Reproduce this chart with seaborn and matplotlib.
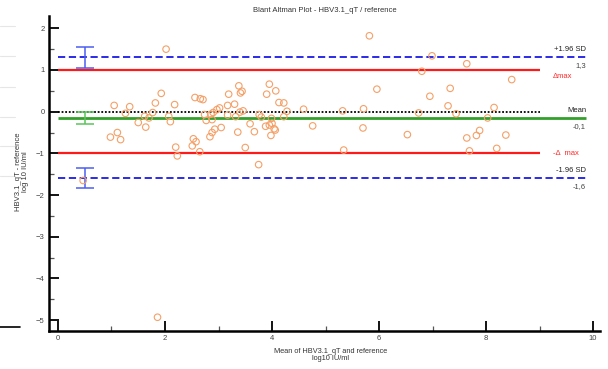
import matplotlib
matplotlib.use("Agg")
import matplotlib.pyplot as plt
from matplotlib.lines import Line2D
import seaborn as sns
import pandas as pd

# ---- data ----
mean_vals = [2.02, 1.93, 1.82, 2.18, 1.05, 1.34, 1.26, 1.77, 1.62, 1.70, 2.07, 1.50, 2.10, 1.64,
             1.11, 0.98, 1.17, 2.20, 2.23, 2.56, 2.66, 2.71, 3.38, 3.44, 3.41, 3.19, 3.95, 4.07,
             3.90, 4.13, 4.22, 3.30, 3.17, 3.02, 2.97, 3.46, 3.40, 2.90, 2.74, 2.86, 4.28, 4.22,
             3.76, 3.80, 3.17, 3.32, 4.59, 2.77, 2.88, 3.99, 4.00, 3.95, 3.59, 3.88, 4.06, 4.04,
             3.05, 2.93, 3.36, 3.67, 4.76, 2.88, 2.84, 3.98, 2.53, 2.58, 2.51, 2.65, 3.50, 3.75,
             5.82, 6.99, 6.80, 5.96, 7.33, 6.95, 7.29, 5.32, 5.71, 6.74, 7.44, 5.70, 6.53, 5.34,
             7.64, 8.48, 8.15, 8.03, 7.88, 7.82, 7.64, 8.37, 7.69, 8.20, 0.47, 1.86]
diff_vals = [1.50, 0.44, 0.21, 0.17, 0.15, 0.12, -0.04, -0.02, -0.11, -0.15, -0.11, -0.26, -0.24, -0.37,
             -0.50, -0.61, -0.67, -0.85, -1.06, 0.34, 0.31, 0.29, 0.62, 0.49, 0.45, 0.42, 0.66, 0.50,
             0.42, 0.22, 0.21, 0.18, 0.15, 0.09, 0.05, 0.02, -0.01, -0.02, -0.07, -0.06, 0.01, -0.12,
             -0.07, -0.13, -0.08, -0.12, 0.06, -0.21, -0.19, -0.16, -0.28, -0.32, -0.29, -0.35, -0.44, -0.41,
             -0.38, -0.42, -0.49, -0.48, -0.34, -0.50, -0.60, -0.57, -0.65, -0.72, -0.82, -0.96, -0.86, -1.27,
             1.82, 1.34, 0.97, 0.54, 0.56, 0.37, 0.14, 0.02, 0.07, -0.03, -0.05, -0.39, -0.55, -0.92,
             1.15, 0.77, 0.10, -0.15, -0.45, -0.57, -0.63, -0.56, -0.94, -0.88, -1.65, -4.93]

mean_diff = -0.15
upper_loa = 1.30
lower_loa = -1.60
delta_max = 1.0
ci_x = 0.5
ci_upper = [1.04, 1.55]
ci_mean = [-0.29, 0.0]
ci_lower = [-1.83, -1.34]

x_ticks = [0, 2, 4, 6, 8, 10]
y_ticks = [-5, -4, -3, -2, -1, 0, 1, 2]

df = pd.DataFrame({"mean": mean_vals, "diff": diff_vals})

sns.set_style("ticks")
plt.rcParams["font.family"] = ["Liberation Sans", "DejaVu Sans"]

fig = plt.figure(figsize=(6.08, 3.69), dpi=100)
W, H = 608, 369
ax = fig.add_axes([49 / W, 1 - 331 / H, (600 - 49) / W, (331 - 16) / H])

# reference lines
ax.hlines(upper_loa, 0, 9.87, colors="#1a1ae6", linestyles=(0, (4, 2)), lw=1.3, zorder=2)
ax.hlines(lower_loa, 0, 9.87, colors="#1a1ae6", linestyles=(0, (4, 2)), lw=1.3, zorder=2)
ax.hlines([delta_max, -delta_max], 0, 9.0, colors="#ff1a1a", lw=1.6, zorder=2)
ax.hlines(0, 0, 9.0, colors="black", linestyles=(0, (1, 1)), lw=1.3, zorder=2)
ax.hlines(mean_diff, 0, 9.87, colors="#33a02c", lw=2.0, zorder=2)

# confidence interval bars
def ci_bar(lims, color):
    mid = (lims[0] + lims[1]) / 2
    ax.errorbar([ci_x], [mid], yerr=[[mid - lims[0]], [lims[1] - mid]], fmt="none",
                ecolor=color, elinewidth=1.1, capsize=6.5, capthick=1.1, zorder=3)

ci_bar(ci_upper, "#4b5ef2")
ci_bar(ci_mean, "#5cc25c")
ci_bar(ci_lower, "#4b5ef2")

sns.scatterplot(data=df, x="mean", y="diff", ax=ax, marker="o", s=22,
                facecolors="none", edgecolor="#f5a068", linewidth=0.8, zorder=4)

ax.set_xlim(-0.168, 10.13)
ax.set_ylim(-5.26, 2.295)
ax.set_xticks(x_ticks)
ax.set_xticks([1, 3, 5, 7, 9], minor=True)
ax.set_yticks(y_ticks)
ax.set_yticks([-4.5, -3.5, -2.5, -1.5, -0.5, 0.5, 1.5], minor=True)
ax.tick_params(which="major", direction="in", length=7, width=1.3, color="black",
               labelsize=5.5, labelcolor="#444444", pad=3)
ax.tick_params(which="minor", direction="in", length=3.5, width=0.9, color="#555555")
ax.set_xlabel("")
ax.set_ylabel("")
for s in ["top", "right"]:
    ax.spines[s].set_visible(False)
for s in ["left", "bottom"]:
    ax.spines[s].set_linewidth(1.8)
    ax.spines[s].set_color("black")

# right-hand labels
xr = 9.87
fs = 5.5
ax.text(xr, upper_loa + 0.1, "+1.96 SD", ha="right", va="bottom", fontsize=fs, color="#222222")
ax.text(xr, upper_loa - 0.1, "1,3", ha="right", va="top", fontsize=fs, color="#444444")
ax.text(9.25, delta_max - 0.07, "\u0394max", ha="left", va="top", fontsize=fs, color="#ff2a2a")
ax.text(xr, 0.02, "Mean", ha="right", va="center", fontsize=fs, color="#222222")
ax.text(xr, mean_diff - 0.13, "-0,1", ha="right", va="top", fontsize=fs, color="#444444")
ax.text(9.25, -delta_max, "-\u0394  max", ha="left", va="center", fontsize=fs, color="#ff2a2a")
ax.text(xr, lower_loa + 0.1, "-1.96 SD", ha="right", va="bottom", fontsize=fs, color="#222222")
ax.text(xr, lower_loa - 0.1, "-1,6", ha="right", va="top", fontsize=fs, color="#444444")

# titles and axis labels
fig.text(325 / W, 1 - 10 / H, "Blant Altman Plot - HBV3.1_qT / reference",
         ha="center", va="center", fontsize=5.5, color="#333333")
fig.text(22 / W, 1 - 172 / H, "HBV3.1_qT - reference\nlog 10 IU/ml", rotation=90,
         ha="center", va="center", multialignment="center", fontsize=5.5,
         color="#333333", linespacing=1.1)
fig.text(331 / W, 1 - 355 / H, "Mean of HBV3.1_qT and reference\nlog10 IU/ml",
         ha="center", va="center", multialignment="center", fontsize=5.3,
         color="#333333", linespacing=1.1)

# faint screenshot edge marks on the left
for yp in [26, 56, 87, 117, 146, 176]:
    fig.add_artist(Line2D([0, 15 / W], [1 - yp / H, 1 - yp / H], color="#e6e6e6", lw=0.8))
fig.add_artist(Line2D([0, 20 / W], [1 - 327 / H, 1 - 327 / H], color="black", lw=1.2))

fig.savefig("out.png", dpi=100)
